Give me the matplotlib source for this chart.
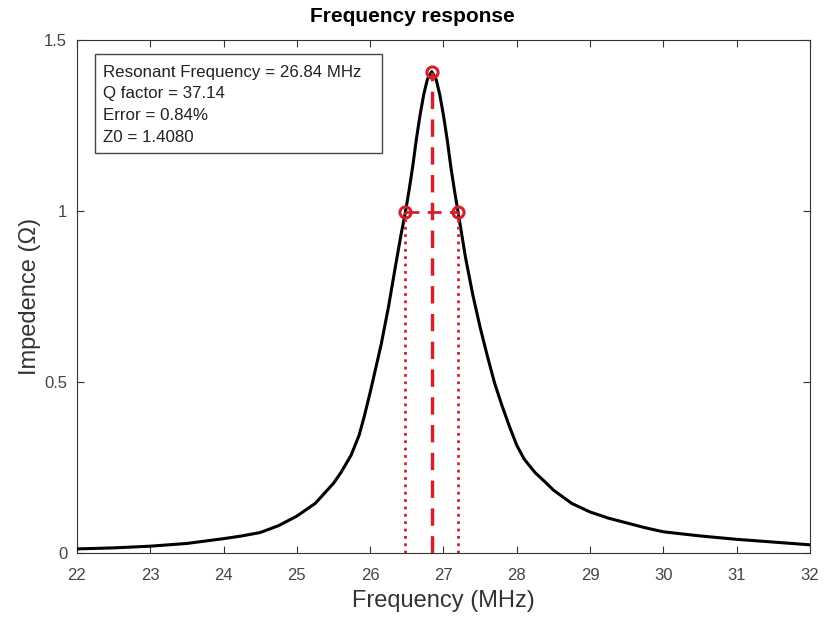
import matplotlib.pyplot as plt
from matplotlib.patches import Rectangle

# data
freq = [22.0, 22.5, 23.0, 23.5, 24.0, 24.25, 24.5, 24.75, 25.0, 25.25, 25.5,
        25.6, 25.74, 25.85, 25.92, 26.0, 26.07, 26.15, 26.25, 26.35, 26.42,
        26.48, 26.53, 26.58, 26.63, 26.68, 26.73, 26.78, 26.84, 26.9, 26.95,
        27.0, 27.05, 27.1, 27.15, 27.2, 27.3, 27.4, 27.5, 27.6, 27.7, 27.8,
        27.9, 28.0, 28.1, 28.25, 28.4, 28.5, 28.75, 29.0, 29.25, 29.5, 29.75,
        30.0, 30.5, 31.0, 31.5, 32.0]
imped = [0.012, 0.015, 0.020, 0.028, 0.042, 0.050, 0.060, 0.080, 0.108, 0.145, 0.204,
         0.235, 0.286, 0.345, 0.400, 0.470, 0.535, 0.610, 0.720, 0.845, 0.930,
         0.996, 1.060, 1.130, 1.210, 1.280, 1.340, 1.385, 1.408, 1.385, 1.340,
         1.280, 1.210, 1.130, 1.060, 0.996, 0.865, 0.755, 0.660, 0.575, 0.495, 0.430,
         0.370, 0.315, 0.275, 0.235, 0.205, 0.184, 0.145, 0.120, 0.102, 0.088, 0.074,
         0.062, 0.050, 0.040, 0.032, 0.024]

f0 = 26.84
z0 = 1.408
f_lo, f_hi = 26.48, 27.20
z_half = 0.996

info = ['Resonant Frequency = 26.84 MHz', 'Q factor = 37.14',
        'Error = 0.84%', 'Z0 = 1.4080']

plt.rcParams['font.family'] = ['Liberation Sans', 'DejaVu Sans']
red = '#d3202a'

fig = plt.figure(figsize=(8.24, 6.17), dpi=100)
ax = fig.add_axes([0.0934, 0.1037, 0.8896, 0.8313])

ax.plot(freq, imped, color='black', lw=2.2, zorder=3)

ax.plot([f0, f0], [0, z0], color=red, ls=(0, (5, 3)), lw=2.5, zorder=4)
ax.plot([f_lo, f_hi], [z_half, z_half], color=red, ls=(0, (5, 3)), lw=2.0, zorder=4)
ax.plot([f_lo, f_lo], [0, z_half], color=red, ls=':', lw=2.0, zorder=4)
ax.plot([f_hi, f_hi], [0, z_half], color=red, ls=':', lw=2.0, zorder=4)
ax.plot([f0, f_lo, f_hi], [z0, z_half, z_half], 'o', ms=8, mfc='none',
        mec=red, mew=2.2, zorder=5)

ax.set_xlim(22, 32)
ax.set_ylim(0, 1.5)
ax.set_xticks(range(22, 33))
ax.set_yticks([0, 0.5, 1, 1.5])
ax.set_yticklabels(['0', '0.5', '1', '1.5'])
ax.tick_params(direction='in', top=True, right=True, labelsize=12,
               colors='#333333', labelcolor='#444444', length=5)
ax.tick_params(axis='x', pad=11)
ax.tick_params(axis='y', pad=7)
for s in ax.spines.values():
    s.set_color('#333333')
    s.set_linewidth(0.8)

ax.set_xlabel('Frequency (MHz)', fontsize=17, color='#333333', labelpad=5)
ax.set_ylabel('Impedence (\u03a9)', fontsize=17, color='#333333', labelpad=2)
ax.set_title('Frequency response', fontsize=15, fontweight='bold', pad=13, x=0.458)

ax.add_patch(Rectangle((0.0245, 0.78), 0.392, 0.193, transform=ax.transAxes,
                       fill=True, facecolor='white', edgecolor='#444444',
                       lw=1.0, zorder=6))
for i, line in enumerate(info):
    ax.text(0.0355, 0.9376 - i * 0.0423, line, transform=ax.transAxes,
            fontsize=12.2, va='center', ha='left', color='#222222', zorder=7)

fig.savefig('out.png', dpi=100)
